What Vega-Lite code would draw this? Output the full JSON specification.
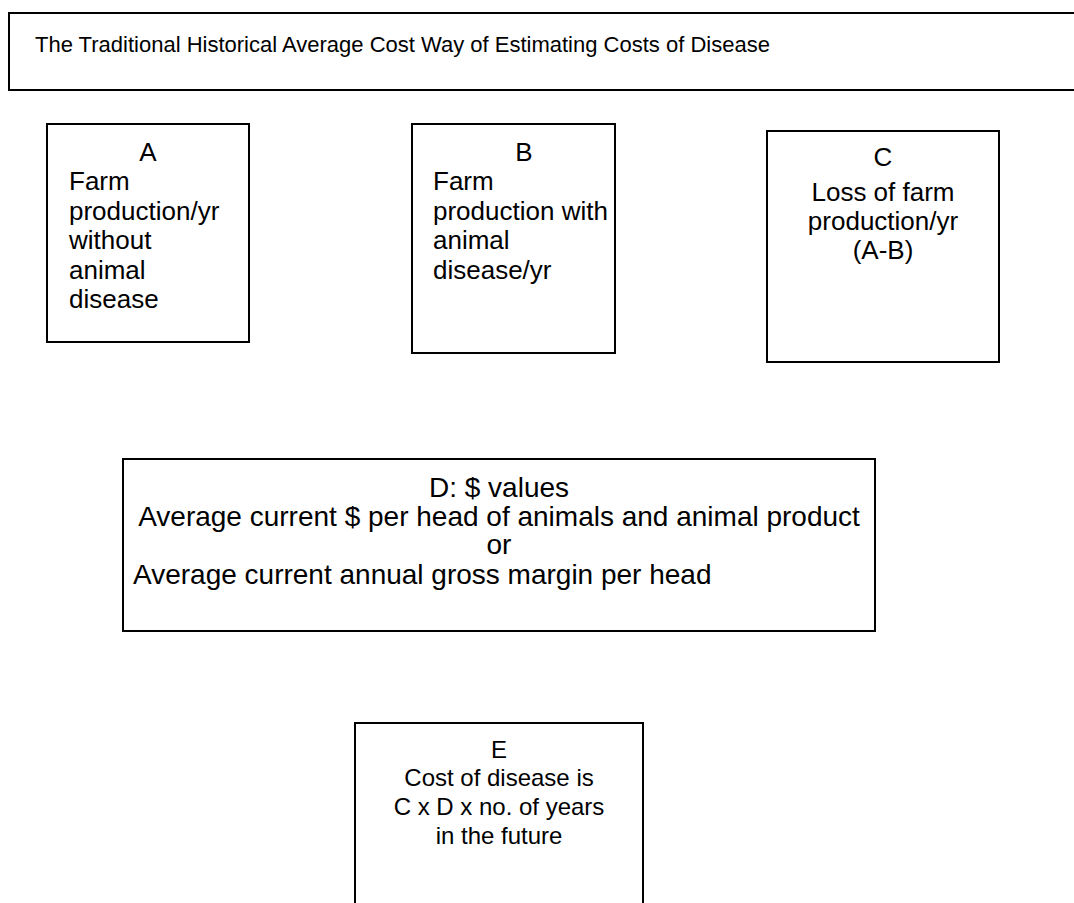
{
  "$schema": "https://vega.github.io/schema/vega-lite/v6.json",
  "width": 1074,
  "height": 903,
  "padding": 0,
  "autosize": {"type": "fit", "contains": "padding"},
  "background": "white",
  "config": {"view": {"stroke": null}},
  "datasets": {
    "boxes": [
      {"box": "Title", "x1": 9, "x2": 1080, "y1": 13, "y2": 90},
      {"box": "A", "x1": 47, "x2": 249, "y1": 124, "y2": 342},
      {"box": "B", "x1": 412, "x2": 615, "y1": 124, "y2": 353},
      {"box": "C", "x1": 767, "x2": 999, "y1": 131, "y2": 362},
      {"box": "D", "x1": 123, "x2": 875, "y1": 459, "y2": 631},
      {"box": "E", "x1": 355, "x2": 643, "y1": 723, "y2": 910}
    ],
    "labels": [
      {"text": "The Traditional Historical Average Cost Way of Estimating Costs of Disease", "x": 35, "y": 52, "size": 22, "align": "left"},
      {"text": "A", "x": 148, "y": 161, "size": 26, "align": "center"},
      {"text": "Farm", "x": 69, "y": 190, "size": 26, "align": "left"},
      {"text": "production/yr", "x": 69, "y": 219.5, "size": 26, "align": "left"},
      {"text": "without", "x": 69, "y": 249, "size": 26, "align": "left"},
      {"text": "animal", "x": 69, "y": 278.5, "size": 26, "align": "left"},
      {"text": "disease", "x": 69, "y": 308, "size": 26, "align": "left"},
      {"text": "B", "x": 524, "y": 161, "size": 26, "align": "center"},
      {"text": "Farm", "x": 433, "y": 190, "size": 26, "align": "left"},
      {"text": "production with", "x": 433, "y": 219.5, "size": 26, "align": "left"},
      {"text": "animal", "x": 433, "y": 249, "size": 26, "align": "left"},
      {"text": "disease/yr", "x": 433, "y": 278.5, "size": 26, "align": "left"},
      {"text": "C", "x": 883, "y": 166, "size": 26, "align": "center"},
      {"text": "Loss of farm", "x": 883, "y": 201, "size": 26, "align": "center"},
      {"text": "production/yr", "x": 883, "y": 230, "size": 26, "align": "center"},
      {"text": "(A-B)", "x": 883, "y": 259, "size": 26, "align": "center"},
      {"text": "D: $ values", "x": 499, "y": 497, "size": 28, "align": "center"},
      {"text": "Average current $ per head of animals and animal product", "x": 499, "y": 526, "size": 28, "align": "center"},
      {"text": "or", "x": 499, "y": 554, "size": 28, "align": "center"},
      {"text": "Average current annual gross margin per head", "x": 133, "y": 584, "size": 28, "align": "left"},
      {"text": "E", "x": 499, "y": 758, "size": 24, "align": "center"},
      {"text": "Cost of disease is", "x": 499, "y": 786, "size": 24, "align": "center"},
      {"text": "C x D x no. of years", "x": 499, "y": 815, "size": 24, "align": "center"},
      {"text": "in the future", "x": 499, "y": 844, "size": 24, "align": "center"}
    ]
  },
  "layer": [
    {
      "data": {"name": "boxes"},
      "mark": {"type": "rect", "fill": "white", "stroke": "#000000", "strokeWidth": 2},
      "encoding": {
        "x": {"field": "x1", "type": "quantitative", "scale": {"domain": [0, 1074], "range": [0, 1074], "nice": false, "zero": false}, "axis": null},
        "x2": {"field": "x2"},
        "y": {"field": "y1", "type": "quantitative", "scale": {"domain": [0, 903], "range": [0, 903], "nice": false, "zero": false}, "axis": null},
        "y2": {"field": "y2"}
      }
    },
    {
      "data": {"name": "labels"},
      "transform": [{"filter": "datum.align === 'left'"}],
      "mark": {"type": "text", "align": "left", "baseline": "alphabetic", "font": "Liberation Sans", "color": "#000000"},
      "encoding": {
        "x": {"field": "x", "type": "quantitative", "scale": {"domain": [0, 1074], "range": [0, 1074], "nice": false, "zero": false}, "axis": null},
        "y": {"field": "y", "type": "quantitative", "scale": {"domain": [0, 903], "range": [0, 903], "nice": false, "zero": false}, "axis": null},
        "text": {"field": "text"},
        "size": {"field": "size", "type": "quantitative", "scale": null}
      }
    },
    {
      "data": {"name": "labels"},
      "transform": [{"filter": "datum.align === 'center'"}],
      "mark": {"type": "text", "align": "center", "baseline": "alphabetic", "font": "Liberation Sans", "color": "#000000"},
      "encoding": {
        "x": {"field": "x", "type": "quantitative", "scale": {"domain": [0, 1074], "range": [0, 1074], "nice": false, "zero": false}, "axis": null},
        "y": {"field": "y", "type": "quantitative", "scale": {"domain": [0, 903], "range": [0, 903], "nice": false, "zero": false}, "axis": null},
        "text": {"field": "text"},
        "size": {"field": "size", "type": "quantitative", "scale": null}
      }
    }
  ]
}
